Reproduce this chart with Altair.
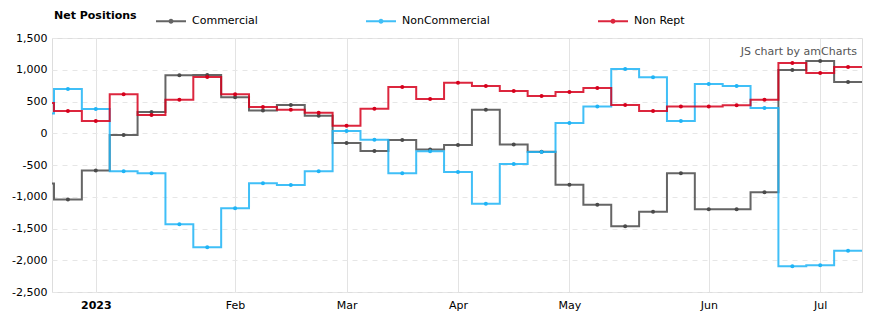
import altair as alt
import pandas as pd

# ---- data (weekly) ----
dates = [
    "2022-12-20", "2022-12-27", "2023-01-03", "2023-01-10", "2023-01-17", "2023-01-24",
    "2023-01-31", "2023-02-07", "2023-02-14", "2023-02-21", "2023-02-28", "2023-03-07",
    "2023-03-14", "2023-03-21", "2023-03-28", "2023-04-04", "2023-04-11", "2023-04-18",
    "2023-04-25", "2023-05-02", "2023-05-09", "2023-05-16", "2023-05-23", "2023-05-30",
    "2023-06-06", "2023-06-13", "2023-06-20", "2023-06-27", "2023-07-04", "2023-07-11",
]
commercial = [-790, -1043, -586, -28, 334, 912, 917, 565, 360, 444, 277, -155, -281, -108, -255,
              -187, 371, -176, -291, -811, -1127, -1464, -1237, -628, -1196, -1196, -928, 996, 1138, 807]
noncommercial = [311, 696, 381, -597, -628, -1433, -1795, -1180, -786, -814, -597, 34, -102, -628, -284,
                 -612, -1111, -486, -297, 160, 423, 1012, 881, 192, 775, 744, 397, -2095, -2079, -1852]
nonrept = [475, 350, 192, 613, 287, 529, 886, 613, 413, 371, 324, 119, 387, 728, 539,
           797, 744, 665, 586, 649, 712, 444, 350, 423, 423, 439, 529, 1106, 949, 1043]

series_names = ["Commercial", "NonCommercial", "Non Rept"]
series_colors = ["#4a4a4a", "#1fb4f6", "#d6001c"]
y_ticks = [-2500, -2000, -1500, -1000, -500, 0, 500, 1000, 1500]
x_tick_dates = [(2023, 1, 3), (2023, 2, 7), (2023, 3, 7), (2023, 4, 4), (2023, 5, 2), (2023, 6, 6), (2023, 7, 4)]
legend_title = "Net Positions"
watermark = "JS chart by amCharts"

rows = []
for name, vals in zip(series_names, [commercial, noncommercial, nonrept]):
    for d, v in zip(dates, vals):
        rows.append({"date": d, "series": name, "value": v})
df = pd.DataFrame(rows)

FONT = "DejaVu Sans"
HALF_WEEK_MS = 3.5 * 86400000

x_scale = alt.Scale(
    type="utc",
    domain=[alt.DateTime(year=2022, month=12, date=23, hours=0, utc=True),
            alt.DateTime(year=2023, month=7, date=14, hours=12, utc=True)],
    nice=False,
)
y_scale = alt.Scale(domain=[-2500, 1500], nice=False)

x_axis = alt.Axis(
    values=[alt.DateTime(year=y, month=m, date=d, utc=True) for (y, m, d) in x_tick_dates],
    labelExpr="utcmonth(datum.value) == 0 ? utcFormat(datum.value, '%Y') : utcFormat(datum.value, '%b')",
    labelFontWeight={"condition": {"test": "utcmonth(datum.value) == 0", "value": "bold"}, "value": "normal"},
    title=None, grid=True, gridColor="#e3e3e3", gridWidth=1, domain=False, ticks=False,
    labelPadding=7, labelFontSize=11, labelColor="#000000", labelFont=FONT,
)
y_axis = alt.Axis(
    values=y_ticks, labelExpr="replace(format(datum.value, ','), '\u2212', '-')",
    title=None, grid=True, gridDash=[5, 5], gridColor="#e6e6e6", gridWidth=1,
    domain=False, ticks=False, labelPadding=5, labelFontSize=11, labelColor="#000000", labelFont=FONT,
)

SYMBOL = "M-1,0L1,0M0.1,0A0.1,0.1,0,1,1,-0.1,0A0.1,0.1,0,1,1,0.1,0"
color = alt.Color(
    "series:N",
    scale=alt.Scale(domain=series_names, range=series_colors),
    sort=series_names,
    legend=alt.Legend(
        title=legend_title, orient="none", legendX=2, legendY=-33, direction="horizontal",
        titleOrient="left", titleFontWeight="bold", titleFontSize=11, titleColor="#000000",
        titleFont=FONT, titlePadding=18, symbolType=SYMBOL, symbolSize=900, symbolStrokeWidth=2,
        labelFontSize=11, labelColor="#000000", labelFont=FONT, labelOffset=5, columnPadding=104,
    ),
)

base = alt.Chart(df)

lines = base.transform_calculate(
    s=f"toDate(datum.date) - {HALF_WEEK_MS}",
    e=f"toDate(datum.date) + {HALF_WEEK_MS}",
).transform_fold(["s", "e"], as_=["k", "xv"]).transform_calculate(
    ord="datum.xv + (datum.k == 's' ? 1 : 0)"
).mark_line(strokeWidth=2, opacity=0.85, clip=True).encode(
    x=alt.X("xv:T", scale=x_scale, axis=x_axis),
    y=alt.Y("value:Q", scale=y_scale, axis=y_axis),
    color=color,
    order=alt.Order("ord:Q"),
)

points = base.mark_circle(size=16, opacity=1, clip=True).encode(
    x=alt.X("date:T", scale=x_scale, axis=x_axis),
    y=alt.Y("value:Q", scale=y_scale, axis=y_axis),
    color=color,
)

wm = alt.Chart(pd.DataFrame({"t": [watermark]})).mark_text(
    align="right", baseline="middle", fontSize=11, color="#555555", font=FONT
).encode(text="t:N", x=alt.value(805), y=alt.value(14))

chart = alt.layer(lines, points, wm).properties(
    width=810, height=254,
    padding={"left": 52, "top": 38, "right": 12, "bottom": 36},
    autosize=alt.AutoSizeParams(type="none"),
).configure_view(stroke=None).configure(font=FONT, background="white")

chart.save("out.html", embed_options={"renderer": "svg", "actions": False})
